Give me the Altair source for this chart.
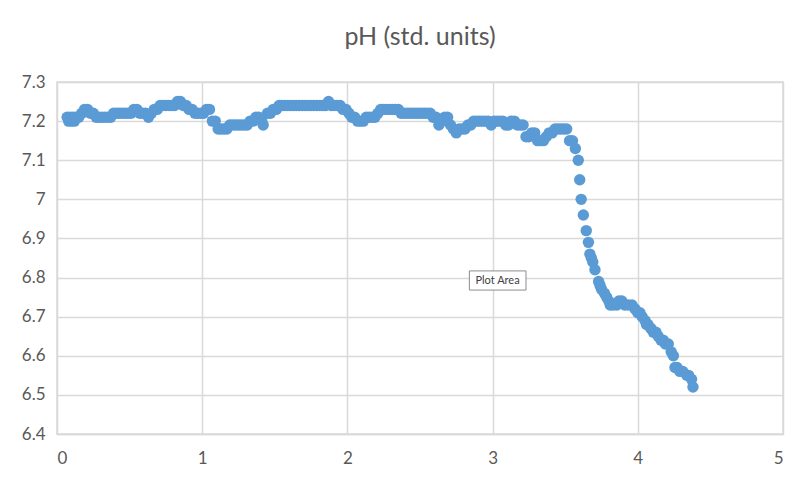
import altair as alt
import pandas as pd

x_vals = [
    0.07, 0.08, 0.09, 0.10, 0.11, 0.12, 0.13, 0.15, 0.17, 0.19, 0.21, 0.23, 0.25, 0.27, 0.29,
    0.31, 0.33, 0.35, 0.37, 0.39, 0.41, 0.43, 0.45, 0.47, 0.49, 0.51, 0.53, 0.55, 0.57, 0.59,
    0.61, 0.63, 0.65, 0.67, 0.69, 0.71, 0.73, 0.75, 0.77, 0.79, 0.81, 0.83, 0.85, 0.87, 0.89,
    0.91, 0.93, 0.95, 0.97, 0.99, 1.01, 1.03, 1.05, 1.07, 1.09, 1.11, 1.13, 1.15, 1.17, 1.19,
    1.21, 1.23, 1.25, 1.27, 1.29, 1.31, 1.33, 1.35, 1.37, 1.39, 1.41, 1.42, 1.45, 1.47, 1.49,
    1.51, 1.53, 1.55, 1.57, 1.59, 1.61, 1.63, 1.65, 1.67, 1.69, 1.71, 1.73, 1.75, 1.77, 1.79,
    1.81, 1.83, 1.85, 1.87, 1.89, 1.91, 1.93, 1.95, 1.97, 1.99, 2.01, 2.03, 2.05, 2.07, 2.09,
    2.11, 2.13, 2.15, 2.17, 2.19, 2.21, 2.23, 2.25, 2.27, 2.29, 2.31, 2.33, 2.35, 2.37, 2.39,
    2.41, 2.43, 2.45, 2.47, 2.49, 2.51, 2.53, 2.55, 2.57, 2.59, 2.61, 2.63, 2.65, 2.67, 2.69,
    2.71, 2.73, 2.75, 2.77, 2.79, 2.81, 2.83, 2.85, 2.87, 2.89, 2.91, 2.93, 2.95, 2.97, 2.99,
    3.01, 3.03, 3.05, 3.07, 3.09, 3.11, 3.13, 3.15, 3.17, 3.19, 3.21, 3.23, 3.25, 3.27, 3.29,
    3.31, 3.33, 3.35, 3.37, 3.39, 3.41, 3.43, 3.45, 3.47, 3.49, 3.51, 3.53, 3.55, 3.57, 3.59,
    3.60, 3.61, 3.625, 3.645, 3.66, 3.67, 3.68, 3.69, 3.705, 3.73, 3.74, 3.75, 3.77, 3.785, 3.80,
    3.81, 3.83, 3.855, 3.87, 3.89, 3.91, 3.935, 3.96, 3.98, 4.00, 4.015, 4.03, 4.05, 4.06, 4.07,
    4.09, 4.107, 4.125, 4.14, 4.16, 4.175, 4.19, 4.21, 4.23, 4.245, 4.256, 4.27, 4.29, 4.31, 4.337,
    4.35, 4.37, 4.38,
]

ph_vals = [
    7.21, 7.20, 7.21, 7.20, 7.21, 7.20, 7.21, 7.21, 7.22, 7.23, 7.23, 7.22, 7.22, 7.21, 7.21,
    7.21, 7.21, 7.21, 7.21, 7.22, 7.22, 7.22, 7.22, 7.22, 7.22, 7.22, 7.23, 7.23, 7.22, 7.22,
    7.22, 7.21, 7.22, 7.23, 7.23, 7.24, 7.24, 7.24, 7.24, 7.24, 7.24, 7.25, 7.25, 7.24, 7.24,
    7.23, 7.23, 7.22, 7.22, 7.22, 7.22, 7.23, 7.23, 7.20, 7.20, 7.18, 7.18, 7.18, 7.18, 7.19,
    7.19, 7.19, 7.19, 7.19, 7.19, 7.19, 7.20, 7.20, 7.21, 7.21, 7.20, 7.19, 7.22, 7.22, 7.23,
    7.23, 7.24, 7.24, 7.24, 7.24, 7.24, 7.24, 7.24, 7.24, 7.24, 7.24, 7.24, 7.24, 7.24, 7.24,
    7.24, 7.24, 7.24, 7.25, 7.24, 7.24, 7.24, 7.24, 7.23, 7.23, 7.22, 7.21, 7.21, 7.20, 7.20,
    7.20, 7.21, 7.21, 7.21, 7.21, 7.22, 7.23, 7.23, 7.23, 7.23, 7.23, 7.23, 7.23, 7.22, 7.22,
    7.22, 7.22, 7.22, 7.22, 7.22, 7.22, 7.22, 7.22, 7.22, 7.21, 7.21, 7.19, 7.20, 7.21, 7.21,
    7.19, 7.18, 7.17, 7.18, 7.18, 7.18, 7.19, 7.19, 7.20, 7.20, 7.20, 7.20, 7.20, 7.20, 7.19,
    7.20, 7.20, 7.20, 7.20, 7.19, 7.19, 7.20, 7.20, 7.19, 7.19, 7.19, 7.16, 7.16, 7.17, 7.17,
    7.15, 7.15, 7.15, 7.16, 7.17, 7.17, 7.18, 7.18, 7.18, 7.18, 7.18, 7.15, 7.15, 7.13, 7.10,
    7.05, 7.00, 6.96, 6.92, 6.89, 6.86, 6.85, 6.84, 6.82, 6.79, 6.78, 6.77, 6.76, 6.75, 6.74,
    6.73, 6.73, 6.73, 6.74, 6.74, 6.73, 6.73, 6.73, 6.72, 6.71, 6.71, 6.70, 6.69, 6.68, 6.68,
    6.67, 6.66, 6.66, 6.65, 6.64, 6.64, 6.63, 6.63, 6.61, 6.60, 6.57, 6.57, 6.56, 6.56, 6.55,
    6.55, 6.54, 6.52,
]

x_ticks = [0, 1, 2, 3, 4, 5]
y_ticks = [6.4, 6.5, 6.6, 6.7, 6.8, 6.9, 7.0, 7.1, 7.2, 7.3]

note_text = ["Plot Area"]
note_x = [3.034]
note_y = [6.792]
note_x1 = [2.84]
note_x2 = [3.23]
note_y1 = [6.768]
note_y2 = [6.817]

df = pd.DataFrame({"x": x_vals, "ph": ph_vals})
note = pd.DataFrame({"t": note_text, "x": note_x, "y": note_y,
                     "x1": note_x1, "x2": note_x2, "y1": note_y1, "y2": note_y2})

FONT = "Lato"
GRID = "#d9d9d9"
TXT = "#595959"

xscale = alt.Scale(domain=[0, 5], nice=False, zero=False)
yscale = alt.Scale(domain=[6.4, 7.3], nice=False, zero=False)

ax_x = alt.Axis(values=x_ticks, format="d", grid=True, gridColor=GRID, gridWidth=1.5,
                domainColor=GRID, domainWidth=1.5, ticks=False,
                labelPadding=16, labelFontSize=17, labelColor=TXT,
                labelFont=FONT, labelOverlap=False, title=None)
ax_y = alt.Axis(values=y_ticks, format="~g", grid=True, gridColor=GRID, gridWidth=1.5,
                domain=False, ticks=False, labelPadding=12,
                labelFontSize=17, labelColor=TXT, labelFont=FONT,
                labelOverlap=False, title=None)

points = alt.Chart(df).mark_circle(size=130, color="#5B9BD5", opacity=1).encode(
    x=alt.X("x:Q", scale=xscale, axis=ax_x),
    y=alt.Y("ph:Q", scale=yscale, axis=ax_y),
)

box = alt.Chart(note).mark_rect(fill="white", stroke="#8c8c8c", strokeWidth=1).encode(
    x=alt.X("x1:Q", scale=xscale, axis=ax_x), x2="x2:Q",
    y=alt.Y("y1:Q", scale=yscale, axis=ax_y), y2="y2:Q",
)

label = alt.Chart(note).mark_text(font=FONT, fontSize=11, color="#404040").encode(
    x=alt.X("x:Q", scale=xscale, axis=ax_x),
    y=alt.Y("y:Q", scale=yscale, axis=ax_y),
    text="t:N",
)

chart = alt.layer(points, box, label).properties(
    width=726, height=352,
    title=alt.TitleParams("pH (std. units)", font=FONT, fontSize=25, fontWeight="normal",
                          color=TXT, anchor="middle", offset=23),
    padding={"left": 49, "top": 74, "right": 20, "bottom": 40},
    autosize=alt.AutoSizeParams(type="none"),
    background="white",
).configure_view(stroke=GRID, strokeWidth=1.5)

chart.save("out.html", embed_options={"renderer": "svg", "actions": False})
